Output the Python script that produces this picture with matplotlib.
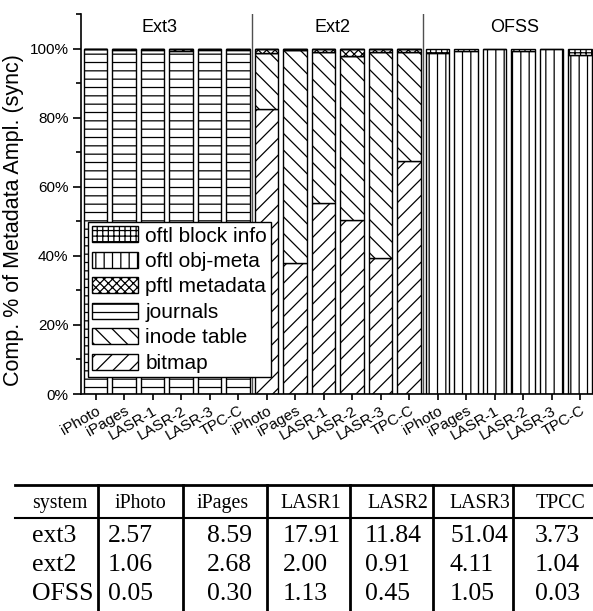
import matplotlib
matplotlib.use("Agg")
import matplotlib.pyplot as plt
from matplotlib.patches import Patch
from matplotlib.lines import Line2D
import numpy as np

plt.rcParams['font.family'] = ['Liberation Sans', 'DejaVu Sans']
plt.rcParams['hatch.linewidth'] = 0.9

# ---------------- data ----------------
workloads = ["iPhoto", "iPages", "LASR-1", "LASR-2", "LASR-3", "TPC-C"]
systems = ["Ext3", "Ext2", "OFSS"]

# stacked percentages, 18 bars (Ext3 x6, Ext2 x6, OFSS x6), bottom to top
bitmap     = [0, 0, 0, 0, 0, 0,  82.4, 37.9, 55.2, 50.3, 39.3, 67.4,  0, 0, 0, 0, 0, 0]
inode_tbl  = [0, 0, 0, 0, 0, 0,  16.4, 61.6, 43.8, 47.5, 59.7, 31.5,  0, 0, 0, 0, 0, 0]
journals   = [99.8, 99.7, 99.7, 99.4, 99.7, 99.7,  0, 0, 0, 0, 0, 0,  0, 0, 0, 0, 0, 0]
pftl_meta  = [0.2, 0.3, 0.3, 0.6, 0.3, 0.3,  1.2, 0.5, 1.0, 2.2, 1.0, 1.1,  0, 0, 0, 0, 0, 0]
oftl_obj   = [0, 0, 0, 0, 0, 0,  0, 0, 0, 0, 0, 0,  98.7, 99.3, 99.8, 99.3, 99.8, 98.1]
oftl_block = [0, 0, 0, 0, 0, 0,  0, 0, 0, 0, 0, 0,  1.3, 0.7, 0.2, 0.7, 0.2, 1.9]

series_labels = ["bitmap", "inode table", "journals", "pftl metadata",
                 "oftl obj-meta", "oftl block info"]
hatches = ["//", "\\\\", "--", "xxxx", "||", "+++"]

# table
table_cols = ["system", "iPhoto", "iPages", "LASR1", "LASR2", "LASR3", "TPCC"]
table_rows = ["ext3", "ext2", "OFSS"]
ext3_vals = ["2.57", "8.59", "17.91", "11.84", "51.04", "3.73"]
ext2_vals = ["1.06", "2.68", "2.00", "0.91", "4.11", "1.04"]
ofss_vals = ["0.05", "0.30", "1.13", "0.45", "1.05", "0.03"]

# ---------------- figure ----------------
W, H = 593, 611
fig = plt.figure(figsize=(W / 100, H / 100), dpi=100)

ax_left, ax_bottom, ax_right, ax_top = 81, 394, 593, 14
ax = fig.add_axes([ax_left / W, (H - ax_bottom) / H,
                   (ax_right - ax_left) / W, (ax_bottom - ax_top) / H])

x = np.arange(len(systems) * len(workloads))
series = [bitmap, inode_tbl, journals, pftl_meta, oftl_obj, oftl_block]
bottom = np.zeros(len(x))
for vals, hatch in zip(series, hatches):
    v = np.array(vals, dtype=float)
    ax.bar(x, v, width=0.82, bottom=bottom, color='white', edgecolor='black',
           hatch=hatch, linewidth=1.0, zorder=2)
    bottom += v

ax.set_xlim(-0.509, 17.456)
ax.set_ylim(0, 110)

for sep in (5.5, 11.5):
    ax.axvline(sep, color='#505050', lw=1.0, zorder=1)

group_x = [2.26, 8.33, 14.72]
for gx, name in zip(group_x, systems):
    ax.text(gx, 106.1, name, ha='center', va='center', fontsize=13)

ax.spines['top'].set_visible(False)
ax.spines['right'].set_visible(False)
ax.spines['left'].set_linewidth(1.2)
ax.spines['bottom'].set_linewidth(1.2)

ax.set_yticks([0, 20, 40, 60, 80, 100])
ax.set_yticklabels(["0%", "20%", "40%", "60%", "80%", "100%"])
ax.set_yticks([10, 30, 50, 70, 90, 110], minor=True)
ax.tick_params(axis='y', which='major', direction='out', length=6, width=1.2,
               labelsize=11, pad=3)
ax.tick_params(axis='y', which='minor', direction='out', length=3.5, width=1.2)

ax.set_xticks(x)
ax.set_xticklabels(workloads * 3, rotation=30, ha='right', va='top',
                   rotation_mode='anchor', fontsize=11)
ax.tick_params(axis='x', which='major', direction='out', length=4, width=1.2, pad=3)

fig.text(14 / W, (H - 220) / H, "Comp. % of Metadata Ampl. (sync)",
         rotation=90, ha='center', va='center', fontsize=15.5)

handles = [Patch(facecolor='white', edgecolor='black', hatch=h, linewidth=1.0)
           for h in hatches]
leg = ax.legend(handles[::-1], series_labels[::-1], loc='lower left',
                bbox_to_anchor=(7 / 512, 17 / 380), borderaxespad=0,
                fontsize=15, frameon=True, fancybox=False, edgecolor='black',
                framealpha=1, handlelength=2.2, handleheight=0.8,
                handletextpad=0.35, labelspacing=0.3, borderpad=0.2)
leg.get_frame().set_linewidth(1.0)
leg.set_zorder(5)

# ---------------- table ----------------
def fx(px):
    return px / W

def fy(py):
    return (H - py) / H

serif = ['Liberation Serif', 'DejaVu Serif']
fig.add_artist(Line2D([fx(15), fx(593)], [fy(485), fy(485)], color='black', lw=2.0))
fig.add_artist(Line2D([fx(15), fx(593)], [fy(518), fy(518)], color='black', lw=1.5))
for vx in (98, 183, 267, 350, 433, 513):
    fig.add_artist(Line2D([fx(vx), fx(vx)], [fy(485), fy(611)], color='black', lw=2.0))

header_left = [32, 115, 197, 280, 367, 449, 536]
data_left = [108, 207, 283, 365, 450, 535]
for hx, txt in zip(header_left, table_cols):
    fig.text(fx(hx), fy(508), txt, ha='left', va='baseline', fontsize=14.3,
             family=serif)
row_base = [542, 571, 600]
for rb, rname, vals in zip(row_base, table_rows, [ext3_vals, ext2_vals, ofss_vals]):
    fig.text(fx(32), fy(rb), rname, ha='left', va='baseline', fontsize=18.5,
             family=serif)
    for dx, v in zip(data_left, vals):
        fig.text(fx(dx), fy(rb), v, ha='left', va='baseline', fontsize=18.5,
                 family=serif)

fig.savefig("out.png", dpi=100)
